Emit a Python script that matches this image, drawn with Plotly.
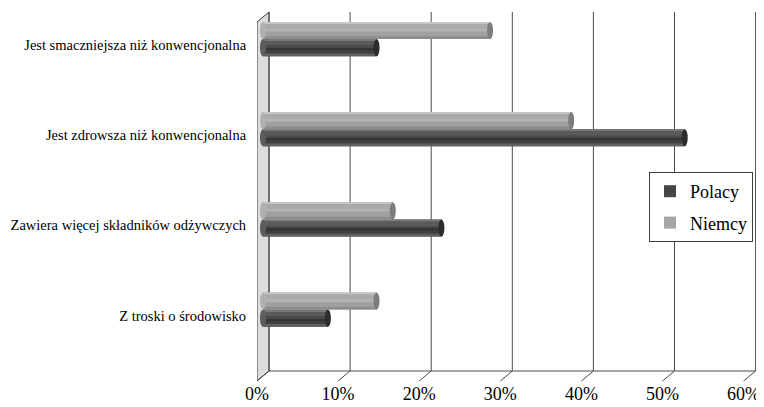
import plotly.graph_objects as go

# ---- data ----
categories = [
    "Jest smaczniejsza niż konwencjonalna",
    "Jest zdrowsza niż konwencjonalna",
    "Zawiera więcej składników odżywczych",
    "Z troski o środowisko",
]
polacy = [0.14, 0.52, 0.22, 0.08]
niemcy = [0.28, 0.38, 0.16, 0.14]
x_tick_values = [0.0, 0.1, 0.2, 0.3, 0.4, 0.5, 0.6]
x_tick_labels = ["0%", "10%", "20%", "30%", "40%", "50%", "60%"]

# ---- style / geometry ----
FONT = "Times New Roman, Liberation Serif, DejaVu Serif, serif"
PAGE_OFF = 8           # default body margin of the html page
DX = 12 / 811          # depth offset in x data units
DY = 10 / 369          # depth offset in paper units
BASE = DX / 2          # bars sit mid-depth
BAR_W = 0.19
SHIFT = -0.0665

series = [
    dict(name="Polacy", group="p", values=polacy, color="#454545", cap="#2c2c2c", lcap="#5c5c5c",
         offset=SHIFT,
         stripes=[(0.0, 0.14, "#777777"), (0.14, 0.38, "#5a5a5a"), (0.38, 0.55, "#4a4a4a"),
                  (0.55, 0.66, "#333333"), (0.66, 0.84, "#404040"), (0.84, 1.0, "#606060")]),
    dict(name="Niemcy", group="n", values=niemcy, color="#a6a6a6", cap="#7c7c7c", lcap="#b0b0b0",
         offset=SHIFT - BAR_W,
         stripes=[(0.0, 0.12, "#c6c6c6"), (0.12, 0.4, "#aaaaaa"), (0.4, 0.56, "#b4b4b4"),
                  (0.56, 0.84, "#a0a0a0"), (0.84, 1.0, "#8c8c8c")]),
]

ypos = list(range(len(categories)))
fig = go.Figure()
shapes = []

for s in series:
    fig.add_trace(go.Bar(
        y=ypos, x=s["values"], base=BASE, orientation="h", name=s["name"],
        legendgroup=s["group"],
        width=BAR_W, offset=s["offset"], marker=dict(color=s["color"], line=dict(width=0)),
        hoverinfo="skip",
    ))
    for f0, f1, c in s["stripes"]:
        fig.add_trace(go.Bar(
            y=ypos, x=s["values"], base=BASE, orientation="h", showlegend=False,
            legendgroup=s["group"],
            width=BAR_W * (f1 - f0), offset=s["offset"] + BAR_W * f0,
            marker=dict(color=c, line=dict(width=0)), hoverinfo="skip",
        ))
    for i, v in enumerate(s["values"]):
        y0 = i + s["offset"]
        y1 = y0 + BAR_W
        shapes.append(dict(type="circle", xref="x", yref="y", layer="above",
                           x0=BASE - 0.0037, x1=BASE + 0.0037, y0=y0, y1=y1,
                           fillcolor=s["lcap"], line=dict(width=0)))
        shapes.append(dict(type="circle", xref="x", yref="y", layer="above",
                           x0=BASE + v - 0.0037, x1=BASE + v + 0.0037, y0=y0, y1=y1,
                           fillcolor=s["cap"], line=dict(width=0)))

# walls, floor and grid (below bars)
deco = []
deco.append(dict(type="path", xref="x", yref="paper", layer="below",
                 path=f"M 0,{1 - DY} L {DX},1 L {DX},{DY} L 0,0 Z",
                 fillcolor="#dcdcdc", line=dict(color="#404040", width=1)))
for t in x_tick_values:
    deco.append(dict(type="line", xref="x", yref="paper", layer="below",
                     x0=t + DX, x1=t + DX, y0=DY, y1=1,
                     line=dict(color="#4a4a4a", width=1)))
    deco.append(dict(type="line", xref="x", yref="paper", layer="below",
                     x0=t, x1=t + DX, y0=0, y1=DY,
                     line=dict(color="#4a4a4a", width=1)))
deco.append(dict(type="line", xref="x", yref="paper", layer="below",
                 x0=DX, x1=x_tick_values[-1] + DX, y0=DY, y1=DY,
                 line=dict(color="#4a4a4a", width=1)))

fig.update_layout(
    width=764 - PAGE_OFF, height=407 - PAGE_OFF,
    margin=dict(l=257 - PAGE_OFF, r=2, t=12 - PAGE_OFF, b=26, autoexpand=False),
    paper_bgcolor="white", plot_bgcolor="white",
    barmode="overlay",
    font=dict(family=FONT, color="#000000"),
    shapes=deco + shapes,
    showlegend=True,
    legend=dict(x=(649 - 257) / 505, y=(381 - 172) / 369, xanchor="left", yanchor="top",
                bordercolor="#404040", borderwidth=1, bgcolor="white",
                font=dict(family=FONT, size=18), itemwidth=30,
                traceorder="grouped", tracegroupgap=5),
    xaxis=dict(range=[0, 505 / 811], showgrid=False, zeroline=False, showline=False,
               automargin=False,
               tickvals=x_tick_values, ticktext=x_tick_labels,
               ticks="",
               tickfont=dict(family=FONT, size=18)),
    yaxis=dict(range=[3.725, -0.366], showgrid=False, zeroline=False, showline=False,
               automargin=False,
               tickvals=ypos, ticktext=categories,
               ticks="outside", ticklen=7, tickcolor="rgba(0,0,0,0)",
               tickfont=dict(family=FONT, size=14.5)),
)

fig.write_html("out.html")
